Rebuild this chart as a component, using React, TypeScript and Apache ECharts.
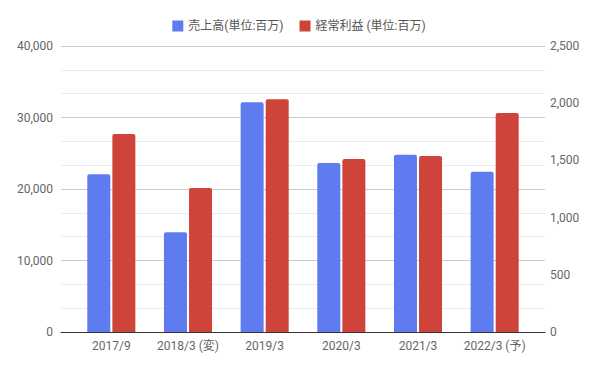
import React, { useEffect, useRef } from "react";
import * as echarts from "echarts";

const categories = ["2017/9", "2018/3 (変)", "2019/3", "2020/3", "2021/3", "2022/3 (予)"];
const salesName = "売上高(単位:百万)";
const profitName = "経常利益 (単位:百万)";
const sales = [22050, 13950, 32150, 23650, 24780, 22400];
const profit = [1730, 1258, 2035, 1512, 1538, 1915];

const FONT = "Roboto, 'Noto Sans CJK JP', sans-serif";

export default function App() {
  const ref = useRef<HTMLDivElement>(null);
  useEffect(() => {
    const chart = echarts.init(ref.current!, null, { renderer: "svg" });
    chart.setOption({
      animation: false,
      textStyle: { fontFamily: FONT },
      legend: {
        top: 15,
        left: "center",
        itemWidth: 11,
        itemHeight: 11,
        itemGap: 16,
        icon: "rect",
        textStyle: { fontSize: 12, color: "#555", fontFamily: FONT },
        data: [salesName, profitName],
      },
      grid: [
        { left: 61, right: 53, top: 46, bottom: 36 },
        { left: 73, width: 460, top: 46, bottom: 36 },
      ],
      xAxis: [
        {
          type: "value",
          gridIndex: 0,
          min: 0,
          max: 1,
          axisLine: { show: true, onZero: false, lineStyle: { color: "#333", width: 1 } },
          axisTick: { show: false },
          axisLabel: { show: false },
          splitLine: { show: false },
        },
        {
          type: "category",
          gridIndex: 1,
          data: categories,
          axisLine: { show: false },
          axisTick: { show: false },
          axisLabel: { color: "#666", fontSize: 12, margin: 8, interval: 0, hideOverlap: false, fontFamily: FONT },
        },
      ],
      yAxis: [
        {
          type: "value",
          gridIndex: 0,
          min: 0,
          max: 40000,
          interval: 10000,
          axisLine: { show: false },
          axisTick: { show: false },
          axisLabel: {
            color: "#666",
            fontSize: 12,
            margin: 8,
            fontFamily: FONT,
            formatter: (v: number) => v.toLocaleString("en-US"),
          },
          splitLine: { show: true, lineStyle: { color: "#cccccc", width: 1 } },
          minorTick: { show: false, splitNumber: 3 },
          minorSplitLine: { show: true, lineStyle: { color: "#ebebeb", width: 1 } },
        },
        {
          type: "value",
          gridIndex: 0,
          position: "right",
          min: 0,
          max: 2500,
          interval: 500,
          axisLine: { show: false },
          axisTick: { show: false },
          axisLabel: {
            color: "#666",
            fontSize: 12,
            margin: 5,
            fontFamily: FONT,
            formatter: (v: number) => v.toLocaleString("en-US"),
          },
          splitLine: { show: false },
        },
        {
          type: "value",
          gridIndex: 1,
          min: 0,
          max: 40000,
          show: false,
        },
        {
          type: "value",
          gridIndex: 1,
          min: 0,
          max: 2500,
          show: false,
        },
      ],
      series: [
        {
          name: salesName,
          type: "bar",
          xAxisIndex: 1,
          yAxisIndex: 2,
          data: sales,
          barWidth: 23,
          barGap: "9%",
          itemStyle: { color: "#5f7bf0", borderRadius: [2, 2, 0, 0] },
        },
        {
          name: profitName,
          type: "bar",
          xAxisIndex: 1,
          yAxisIndex: 3,
          data: profit,
          barWidth: 23,
          barGap: "9%",
          itemStyle: { color: "#cf443a", borderRadius: [2, 2, 0, 0] },
        },
      ],
    });
    return () => chart.dispose();
  }, []);
  return <div ref={ref} style={{ width: 598, height: 368, position: "absolute", left: 0, top: 0 }} />;
}
